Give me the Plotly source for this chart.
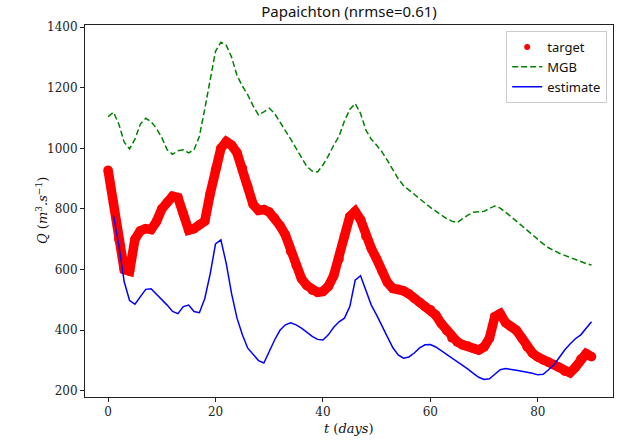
import plotly.graph_objects as go

# ---- data ----
t_target = list(range(0, 91))
target = [928, 820, 700, 600, 595, 700, 728, 735, 732, 758,
          800, 822, 842, 838, 785, 730, 735, 748, 760, 850,
          930, 1000, 1022, 1010, 985, 935, 875, 815, 795, 798,
          790, 770, 745, 715, 660, 615, 570, 548, 532, 525,
          528, 545, 580, 635, 710, 775, 792, 765, 710, 670,
          635, 595, 558, 538, 535, 530, 520, 505, 492, 478,
          468, 450, 423, 400, 375, 362, 352, 348, 340, 335,
          345, 374, 445, 455, 425, 412, 400, 375, 345, 325,
          312, 302, 295, 287, 278, 265, 260, 278, 305, 323, 313]

t_mgb = list(range(0, 91))
mgb = [1104, 1119, 1080, 1020, 998, 1030, 1080, 1099, 1088, 1066,
       1035, 995, 980, 992, 995, 985, 995, 1040, 1130, 1225,
       1320, 1350, 1340, 1300, 1240, 1205, 1176, 1140, 1110, 1120,
       1132, 1115, 1085, 1058, 1030, 1000, 967, 940, 925, 922,
       945, 975, 1010, 1040, 1090, 1128, 1148, 1115, 1060, 1030,
       1010, 988, 960, 930, 900, 877, 862, 848, 835, 818,
       805, 793, 780, 768, 760, 755, 768, 780, 789, 790,
       792, 802, 810, 803, 790, 775, 760, 745, 728, 712,
       698, 685, 672, 662, 654, 647, 640, 633, 627, 620, 615]

t_est = list(range(1, 91))
estimate = [778, 680, 560, 498, 486, 510, 535, 537, 520,
            503, 483, 462, 455, 478, 483, 462, 458, 505, 585,
            685, 698, 620, 520, 440, 385, 341, 320, 300, 292,
            330, 368, 400, 418, 425, 418, 407, 392, 380, 370,
            368, 385, 410, 428, 440, 478, 565, 580, 530, 483,
            450, 412, 378, 343, 319, 308, 312, 325, 342, 352,
            353, 345, 333, 320, 308, 298, 285, 272, 258, 245,
            238, 240, 255, 270, 274, 270, 268, 265, 262, 258,
            253, 255, 270, 286, 310, 335, 355, 372, 385, 405, 428]

title_text = "Papaichton (nrmse=0.61)"
x_label = "<i>t</i> (<i>days</i>)"
y_label = "<i>Q</i> (<i>m</i><sup>3</sup>.<i>s</i><sup>−1</sup>)"
x_ticks = [0, 20, 40, 60, 80]
y_ticks = [200, 400, 600, 800, 1000, 1200, 1400]

fig = go.Figure()

# target: thick band of red dots
fig.add_trace(go.Scatter(
    x=t_target, y=target, mode="lines+markers",
    line=dict(color="#ff0000", width=9.5),
    marker=dict(color="#ff0000", size=9.5),
    showlegend=False, hoverinfo="skip"))
# legend entry for target
fig.add_trace(go.Scatter(
    x=[None], y=[None], mode="markers", name="target",
    marker=dict(color="#ff0000", size=6)))
fig.add_trace(go.Scatter(
    x=t_mgb, y=mgb, mode="lines", name="MGB",
    line=dict(color="#008000", width=1.5, dash="6px,3px")))
fig.add_trace(go.Scatter(
    x=t_est, y=estimate, mode="lines", name="estimate",
    line=dict(color="#0000ff", width=1.5)))

axis_common = dict(
    showgrid=False, zeroline=False, showline=True, mirror=True,
    linecolor="#222", linewidth=1, ticks="outside", ticklen=4,
    tickcolor="#222", automargin=False,
    tickfont=dict(family="DejaVu Serif", size=12, color="#222"),
)

fig.update_layout(
    width=621, height=442,
    margin=dict(l=85, r=8, t=25, b=45),
    paper_bgcolor="white", plot_bgcolor="white",
    title=dict(text=title_text, x=(85 + 613) / 2 / 621, xanchor="center",
               y=1 - 12 / 442, yanchor="middle",
               font=dict(family="Noto Sans", size=15, color="#111")),
    xaxis=dict(range=[-4.3, 94.0], tickvals=x_ticks, **axis_common),
    yaxis=dict(range=[180, 1406.6], tickvals=y_ticks, **axis_common),
    legend=dict(x=0.989, y=0.984, xanchor="right", yanchor="top",
                bgcolor="rgba(255,255,255,0.9)", bordercolor="#cccccc", borderwidth=1,
                font=dict(family="Noto Sans", size=13, color="#111"),
                tracegroupgap=0, itemwidth=30),
    annotations=[
        dict(text=x_label, xref="paper", yref="paper", x=0.5, y=(397 - 428) / 372,
             xanchor="center", yanchor="middle", showarrow=False,
             font=dict(family="DejaVu Serif", size=13, color="#111")),
        dict(text=y_label, xref="paper", yref="paper", x=(42 - 85) / 528, y=0.5,
             xanchor="center", yanchor="middle", showarrow=False, textangle=-90,
             font=dict(family="DejaVu Serif", size=13, color="#111")),
    ],
)

fig.write_html("out.html", post_script="document.body.style.margin='0px';",
               config={"displayModeBar": False})
